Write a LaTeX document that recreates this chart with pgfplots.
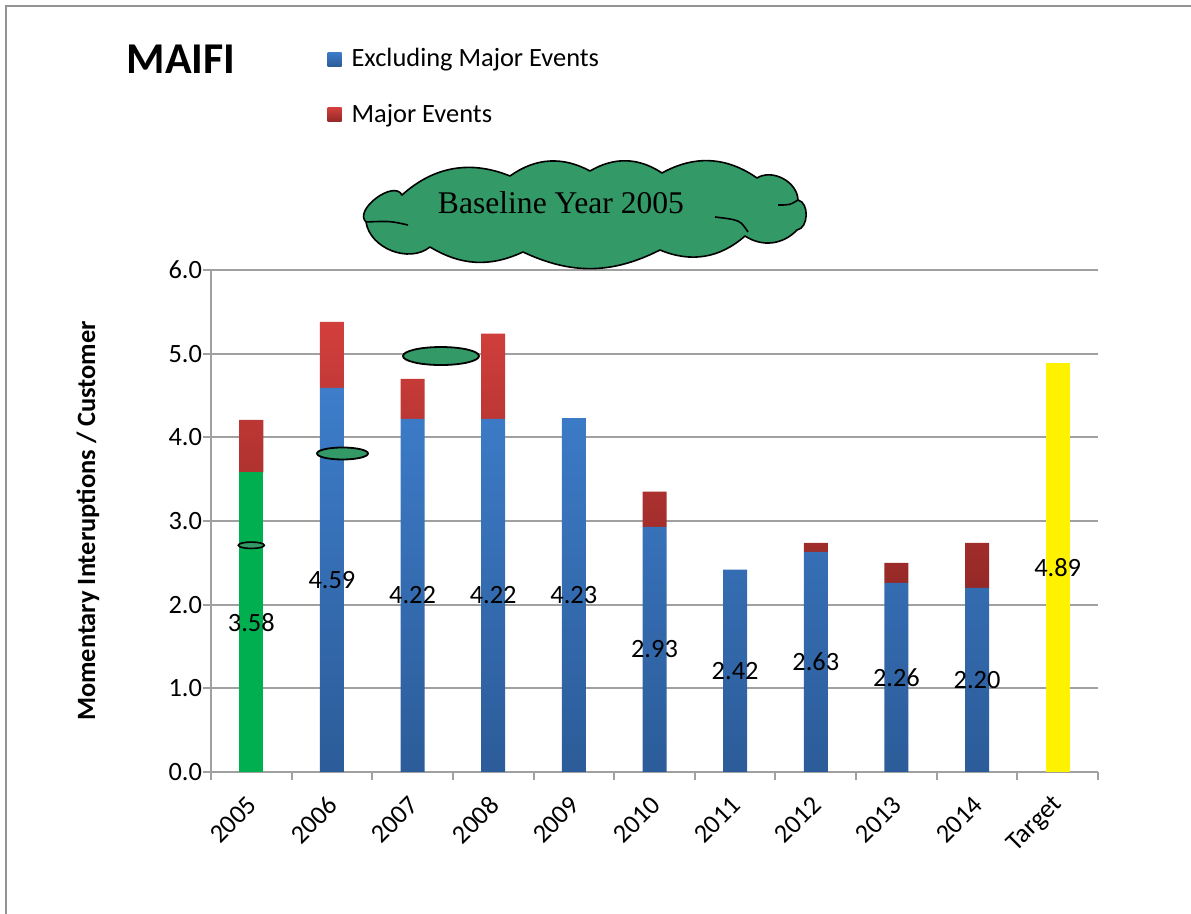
\documentclass[border=0pt]{standalone}
\usepackage{pgfplots}
\pgfplotsset{compat=1.18}
\usepackage{pgfplotstable}
\usepackage{fontspec}
\setmainfont{Carlito}
\newfontfamily\seriffont{Liberation Serif}
\definecolor{bluetop}{HTML}{3D7DCA}
\definecolor{bluebot}{HTML}{2C5C99}
\definecolor{redtop}{HTML}{D23F3C}
\definecolor{redbot}{HTML}{952927}
\definecolor{gridgray}{HTML}{A0A0A0}
\definecolor{cloudgreen}{HTML}{339966}
\definecolor{bargreen}{HTML}{00B050}
\newcommand\fs{\fontsize{13.2pt}{15pt}\selectfont}

\pgfplotstableread{
idx excl green yellow major lbl
0  0     3.58 0     0.63 3.58
1  4.59  0    0     0.79 4.59
2  4.22  0    0     0.48 4.22
3  4.22  0    0     1.02 4.22
4  4.23  0    0     0    4.23
5  2.93  0    0     0.42 2.93
6  2.42  0    0     0    2.42
7  2.63  0    0     0.11 2.63
8  2.26  0    0     0.24 2.26
9  2.20  0    0     0.54 2.20
10 0     0    4.89  0    4.89
}\datatable

\begin{document}
\begin{tikzpicture}[x=0.5pt,y=-0.5pt]
\useasboundingbox (0,0) rectangle (1191,914);
\draw[color=gray!85, line width=1pt] (6,914) -- (6,6) -- (1191,6);
\begin{axis}[
  at={(105.5pt,-386pt)}, anchor=south west,
  scale only axis, width=443.5pt, height=251pt,
  ybar stacked, bar width=12pt,
  xmin=-0.5, xmax=10.5, ymin=0, ymax=6,
  axis x line*=bottom, axis y line*=left,
  ytick={0,1,...,6},
  xtick={0,...,10},
  xticklabels={2005,2006,2007,2008,2009,2010,2011,2012,2013,2014,Target},
  minor xtick={-0.5,0.5,...,10.5},
  major x tick style={draw=none},
  tick align=outside,
  major tick length=4pt, minor tick length=4pt,
  ymajorgrids, grid style={gridgray, line width=1pt},
  axis line style={gridgray, line width=1pt},
  tick style={gridgray, line width=1pt},
  /pgf/number format/assume math mode=true,
  yticklabel style={font=\fs, xshift=3pt, /pgf/number format/.cd, fixed, fixed zerofill, precision=1},
  xticklabel style={font=\fs, yshift=-8pt, xshift=3pt, rotate=45, anchor=east},
  ylabel={\bfseries Momentary Interuptions / Customer},
  every axis y label/.style={at={(axis description cs:0,0.5)}, xshift=-61.5pt, rotate=90, anchor=center, font=\fs},
  legend style={at={(axis description cs:0.131,1.45)}, anchor=north west, draw=none, fill=none,
     font=\fs, inner sep=0pt, row sep=13pt, /tikz/every even column/.append style={column sep=3pt}},
  legend cell align=left,
  legend image code/.code={\path[#1, draw=none] (0pt,-3.5pt) rectangle (7pt,3.5pt);},
]
\addplot[draw=none, top color=bluetop, bottom color=bluebot] table[x=idx, y=excl] {\datatable};
\addlegendentry{\hspace{3pt}Excluding Major Events}
\addplot[draw=none, fill=bargreen, forget plot] table[x=idx, y=green] {\datatable};
\addplot[draw=none, fill=yellow, forget plot] table[x=idx, y=yellow] {\datatable};
\addplot[draw=none, top color=redtop, bottom color=redbot] table[x=idx, y=major] {\datatable};
\addlegendentry{\hspace{3pt}Major Events}
\addplot[draw=none, fill=none, stack plots=false, forget plot,
  nodes near coords, point meta=explicit symbolic, nodes near coords align={center},
  every node near coord/.append style={font=\fs, text=black}]
  table[x=idx, y=lbl, meta=lbl] {\datatable};
\coordinate (e1) at (axis cs:0,2.71);
\coordinate (e2) at (axis cs:1.131,3.807);
\coordinate (e3) at (axis cs:2.352,4.972);
\end{axis}
\draw[fill=cloudgreen, line width=0.8pt] (e1) ellipse [x radius=6.5pt, y radius=1.6pt];
\draw[fill=cloudgreen, line width=0.9pt] (e2) ellipse [x radius=12.75pt, y radius=3pt];
\draw[fill=cloudgreen, line width=0.9pt] (e3) ellipse [x radius=19pt, y radius=4.5pt];
% cloud callout
\draw[fill=cloudgreen, line width=0.8pt, line join=round]
  (366,222) to[bend left=100] (402,195)
  to[bend left=32] (510,176)
  to[bend left=32] (590,171)
  to[bend left=32] (662,173)
  to[bend left=32] (757,178)
  to[bend left=60] (798,200)
  to[bend left=80] (797,230)
  to[bend left=40] (745,236)
  to[bend left=32] (660,250)
  to[bend left=26] (523,252)
  to[bend left=28] (430,247)
  to[bend left=60] (366,222) -- cycle;
\draw[line width=0.8pt] (366,222) .. controls (390,221) .. (408,225);
\draw[line width=0.8pt] (798,200) .. controls (790,205) .. (778,205);
\draw[line width=0.8pt] (715,217) .. controls (740,220) .. (748,232);
\node[font=\seriffont\fontsize{15.8pt}{18pt}\selectfont, anchor=base] at (561,214) {Baseline Year 2005};
\node[font=\fontsize{22pt}{24pt}\selectfont\bfseries, anchor=base] at (181,74) {MAIFI};
\end{tikzpicture}
\end{document}
